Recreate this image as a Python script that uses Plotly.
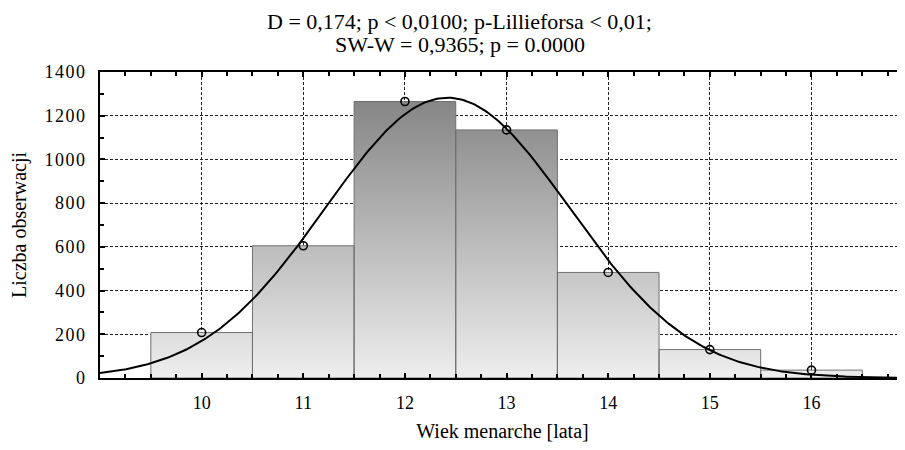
import numpy as np
import plotly.graph_objects as go

# ---- data ----
ages = [10, 11, 12, 13, 14, 15, 16]            # bin centres (years)
counts = [208, 605, 1265, 1135, 483, 130, 36]  # observations per bin
title_lines = ["D = 0,174; p < 0,0100; p-Lillieforsa < 0,01;",
               "SW-W = 0,9365; p = 0.0000"]
x_title = "Wiek menarche [lata]"
y_title = "Liczba obserwacji"
y_ticks = [0, 200, 400, 600, 800, 1000, 1200, 1400]

bin_w = 1.0
x_lo, x_hi = 9.0, 16.92
font_family = "Liberation Serif, Times New Roman, serif"

# bar outlines built from the data
bx, by = [], []
for a, c in zip(ages, counts):
    l, r = a - bin_w / 2, a + bin_w / 2
    bx += [l, l, r, r, l, None]
    by += [0, c, c, 0, 0, None]

# expected normal curve fitted to the binned data
a_arr = np.array(ages, float)
c_arr = np.array(counts, float)
n = c_arr.sum()
mu = (a_arr * c_arr).sum() / n
sd = np.sqrt((c_arr * (a_arr - mu) ** 2).sum() / n)
xc = np.linspace(x_lo, x_hi, 400)
yc = n * bin_w / (sd * np.sqrt(2 * np.pi)) * np.exp(-0.5 * ((xc - mu) / sd) ** 2)

fig = go.Figure()
fig.add_trace(go.Scatter(
    x=bx, y=by, mode="lines", fill="toself",
    line=dict(color="rgb(112,112,112)", width=1),
    fillgradient=dict(type="vertical",
                      colorscale=[[0, "#eeeeee"], [1, "#868686"]],
                      start=0, stop=max(counts)),
    hoverinfo="skip", showlegend=False))
fig.add_trace(go.Scatter(
    x=xc, y=yc, mode="lines", line=dict(color="black", width=2),
    hoverinfo="skip", showlegend=False))
fig.add_trace(go.Scatter(
    x=ages, y=counts, mode="markers",
    marker=dict(symbol="circle-open", size=8, color="black",
                line=dict(width=1.6, color="black")),
    showlegend=False))

# title lines as annotations (page body has an 8px offset; margins compensate)
for txt, yy in zip(title_lines, [1.1635, 1.0915]):
    fig.add_annotation(
        text=txt, xref="paper", yref="paper", x=0.4472, y=yy,
        xanchor="center", yanchor="middle", showarrow=False,
        font=dict(size=22, family=font_family, color="black"))

grid_dash = "3px,2px"
fig.update_layout(
    width=905, height=450,
    margin=dict(l=92, r=8, t=64, b=80, autoexpand=False),
    paper_bgcolor="white", plot_bgcolor="white",
    font=dict(family=font_family, size=18, color="black"),
    xaxis=dict(
        range=[x_lo, x_hi], tickvals=ages, ticktext=[str(a) for a in ages],
        showgrid=True, gridcolor="#222222", griddash=grid_dash, gridwidth=1,
        showline=True, linecolor="black", linewidth=2, mirror="allticks",
        ticks="inside", ticklen=5, tickwidth=1.5, tickcolor="black",
        minor=dict(dtick=0.25, tick0=9, ticks="inside", ticklen=4,
                   tickwidth=1.5, tickcolor="black", showgrid=False),
        ticklabelstandoff=7, zeroline=False, automargin=False,
        tickfont=dict(size=18),
        title=dict(text=x_title, standoff=12,
                   font=dict(size=20, family=font_family)),
    ),
    yaxis=dict(
        range=[0, 1400], tickvals=y_ticks,
        ticktext=['<span style="letter-spacing:1.5px">%d</span>' % v for v in y_ticks],
        showgrid=True, gridcolor="#222222", griddash=grid_dash, gridwidth=1,
        showline=True, linecolor="black", linewidth=2, mirror=False,
        ticks="inside", ticklen=5, tickwidth=1.5, tickcolor="black",
        minor=dict(dtick=100, ticks="inside", ticklen=4, tickwidth=1.5,
                   tickcolor="black", showgrid=False),
        ticklabelstandoff=8, zeroline=False, automargin=False,
        tickfont=dict(size=18),
        title=dict(text=y_title, standoff=22,
                   font=dict(size=20, family=font_family)),
    ),
)

fig.write_html("out.html")
